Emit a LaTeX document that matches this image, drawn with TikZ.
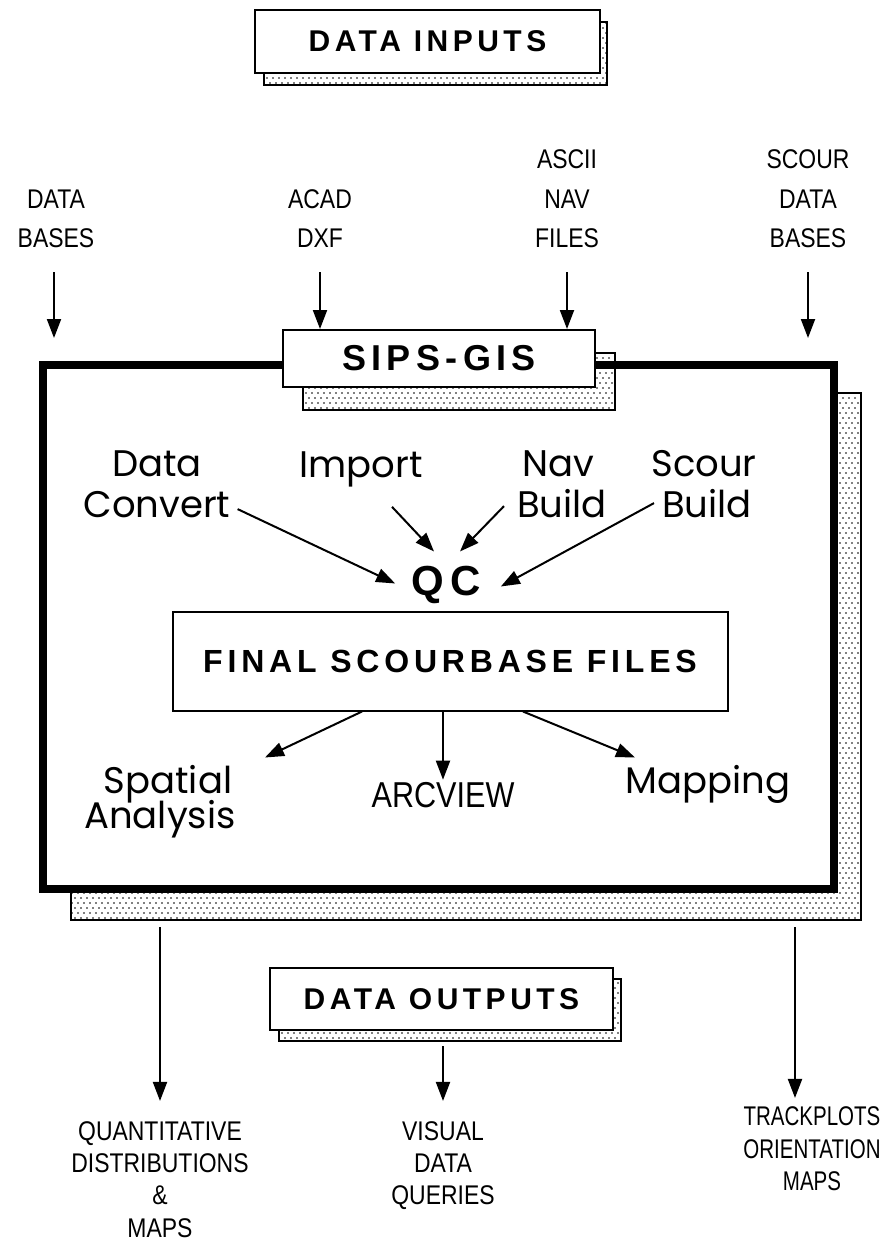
\documentclass[tikz,border=0pt]{standalone}
\usepackage{fontspec}
\setmainfont{Liberation Sans}
\newfontfamily\headfont[LetterSpace=15]{Liberation Sans}
\newfontfamily\lblfont{Poppins}
\newfontfamily\condfont[FakeStretch=0.85]{Liberation Sans}
\newfontfamily\narrowfont[FakeStretch=0.76]{Liberation Sans}
\usetikzlibrary{arrows.meta,patterns,calc}
\pgfdeclarepatternformonly{sdots}{\pgfqpoint{-1pt}{-1pt}}{\pgfqpoint{5pt}{9pt}}{\pgfqpoint{6pt}{10pt}}{%
  \pgfpathcircle{\pgfqpoint{0pt}{0pt}}{0.95pt}%
  \pgfpathcircle{\pgfqpoint{3pt}{5pt}}{0.95pt}%
  \pgfusepath{fill}}
\begin{document}
\begin{tikzpicture}[x=1pt,y=-1pt,
  frontbox/.style={draw,line width=2pt,fill=white,inner sep=0pt},
  shadowbox/.style={draw,line width=1.6pt,pattern=sdots,inner sep=0pt},
  mainbox/.style={draw,line width=8pt,fill=white,inner sep=0pt},
  arr/.style={line width=2pt,-{Triangle[length=19pt,width=14pt]}},
  caplbl/.style={anchor=base,inner sep=0pt,font=\condfont\fontsize{27}{30}\selectfont},
  narrowlbl/.style={anchor=base,inner sep=0pt,font=\narrowfont\fontsize{27}{30}\selectfont},
  lbl/.style={anchor=base,inner sep=0pt,font=\lblfont\fontsize{37}{40}\selectfont},
  headtxt/.style={font=\headfont\bfseries\fontsize{30}{30}\selectfont}]
\useasboundingbox (0,0) rectangle (887,1243);

% DATA INPUTS
\node[shadowbox,minimum width=343pt,minimum height=63pt] (inputsh) at (435.5,53.5) {};
\node[frontbox,minimum width=345pt,minimum height=63pt,headtxt] (inputs) at (427.5,41.5) {DATA INPUTS};

% input labels
\node[caplbl] (db1) at (56,208) {DATA};
\node[caplbl] (db2) at (56,247) {BASES};
\node[caplbl] (ac1) at (320,208) {ACAD};
\node[caplbl] (ac2) at (320,247) {DXF};
\node[caplbl] (as1) at (567,168) {ASCII};
\node[caplbl] (as2) at (567,208) {NAV};
\node[caplbl] (as3) at (567,247) {FILES};
\node[caplbl] (sc1) at (808,168) {SCOUR};
\node[caplbl] (sc2) at (808,208) {DATA};
\node[caplbl] (sc3) at (808,247) {BASES};

% main box
\node[shadowbox,minimum width=790pt,minimum height=527pt] (gissh) at (466,656.5) {};
\node[mainbox,minimum width=791pt,minimum height=524pt] (gis) at (438.5,627) {};
\node[shadowbox,minimum width=312pt,minimum height=57pt] (sipssh) at (459,381.5) {};
\node[frontbox,minimum width=312pt,minimum height=57pt,font=\headfont\bfseries\fontsize{36}{36}\selectfont] (sips) at (439,358.5) {SIPS-GIS};

\coordinate (dbtip) at (54,338);
\coordinate (sctip) at (808,338);
\draw[arr,shorten <=25pt] (db2.base -| dbtip) -- (dbtip);
\draw[arr,shorten <=25pt] (ac2.base) -- (ac2.base |- sips.north);
\draw[arr,shorten <=25pt] (as3.base) -- (as3.base |- sips.north);
\draw[arr,shorten <=25pt] (sc3.base) -- (sctip);

% inner labels
\node[lbl] (dc1) at (157,476) {Data};
\node[lbl] (dc2) at (157,517) {Convert};
\node[lbl] (imp) at (361,477) {Import};
\node[lbl] (nb1) at (558,476) {Nav};
\node[lbl] (nb2) at (562,517) {Build};
\node[lbl] (sb1) at (704,476) {Scour};
\node[lbl] (sb2) at (707,517) {Build};
\node[anchor=base,inner sep=0pt,font=\headfont\bfseries\fontsize{42}{42}\selectfont] (qc) at (446,595) {QC};

\draw[arr] ($(dc2.east)+(7,5)$) -- ($(qc.west)+(-16,-1)$);
\draw[arr] ($(imp.south)+(31,20)$) -- ($(qc.north)+(-12,-14)$);
\draw[arr] ($(nb2.west)+(-13,3)$) -- ($(qc.north)+(14,-14)$);
\draw[arr] ($(sb2.west)+(-8,0)$) -- ($(qc.east)+(20,2)$);

\node[frontbox,minimum width=555pt,minimum height=99pt,font=\headfont\bfseries\fontsize{32}{32}\selectfont] (final) at (450,661) {FINAL SCOURBASE FILES};

\node[lbl] (sp1) at (168,793) {Spatial};
\node[lbl] (sp2) at (160,828) {Analysis};
\node[anchor=base,inner sep=0pt,font=\condfont\fontsize{36}{36}\selectfont] (arc) at (443,807) {ARCVIEW};
\node[lbl] (map) at (708,793) {Mapping};

\draw[arr] ($(final.south)+(-88,0)$) -- ($(final.south)+(-185,46)$);
\draw[arr,shorten >=2pt] (final.south -| arc.north) -- (arc.north);
\draw[arr] ($(final.south)+(73,0)$) -- ($(final.south)+(185,46)$);

% DATA OUTPUTS
\node[shadowbox,minimum width=342pt,minimum height=62pt] (outsh) at (450,1010) {};
\node[frontbox,minimum width=343pt,minimum height=62pt,headtxt] (outputs) at (441.5,999) {DATA OUTPUTS};

\node[caplbl] (q1) at (160,1140) {QUANTITATIVE};
\node[caplbl] (q2) at (160,1172) {DISTRIBUTIONS};
\node[caplbl] (q3) at (160,1204) {\&};
\node[caplbl] (q4) at (160,1237) {MAPS};
\node[caplbl] (v1) at (443,1140) {VISUAL};
\node[caplbl] (v2) at (443,1172) {DATA};
\node[caplbl] (v3) at (443,1204) {QUERIES};
\node[narrowlbl] (t1) at (812,1125) {TRACKPLOTS};
\node[narrowlbl] (t2) at (812,1158) {ORIENTATION};
\node[narrowlbl] (t3) at (812,1190) {MAPS};

\coordinate (qstart) at (160,927);
\coordinate (tstart) at (795,927);
\draw[arr,shorten >=20pt] (qstart) -- (q1.north);
\draw[arr,shorten >=8pt] (tstart) -- (tstart |- t1.north);
\draw[arr,shorten <=15pt,shorten >=20pt] (outputs.south -| v1.north) -- (v1.north);
\end{tikzpicture}
\end{document}
